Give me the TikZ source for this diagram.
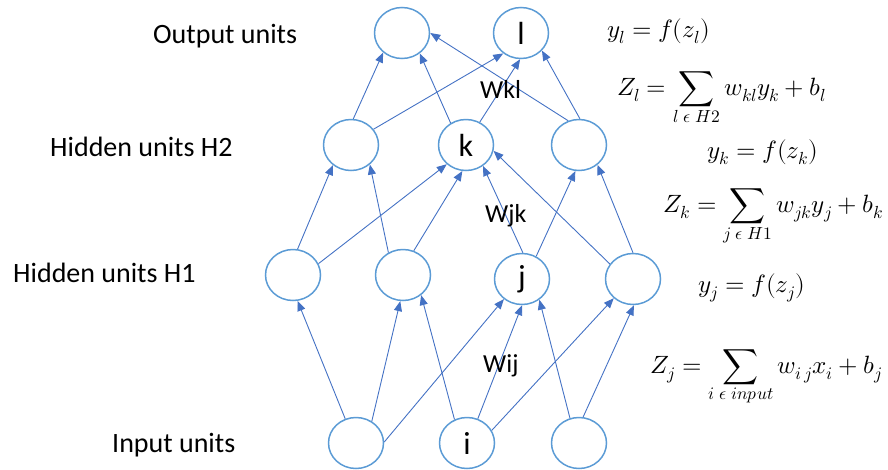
\documentclass[tikz,border=0pt]{standalone}
\usepackage{fontspec}
\usepackage{unicode-math}
\setmainfont{Carlito}
\setmathfont{Latin Modern Math}
\usetikzlibrary{arrows.meta,shapes.geometric}
\definecolor{edgeblue}{RGB}{68,114,196}
\definecolor{nodeblue}{RGB}{91,155,213}
\begin{document}
\begin{tikzpicture}[x=1pt,y=-1pt,
  unit/.style={ellipse,draw=nodeblue,line width=1.5pt,minimum width=55pt,minimum height=51pt,inner sep=0pt,font=\fontsize{32}{32}\selectfont},
  conn/.style={draw=edgeblue,line width=0.9pt,-{Triangle[length=10pt,width=8pt]}},
  lbl/.style={anchor=base west,inner sep=0pt,font=\fontsize{28}{28}\selectfont},
  wlbl/.style={anchor=base west,inner sep=0pt,font=\fontsize{26}{26}\selectfont},
  eq/.style={anchor=base west,inner sep=0pt,font=\fontsize{25}{30}\selectfont}]
\useasboundingbox (0,0) rectangle (888,469);
% nodes
\node[unit] (o1) at (402,33) {};
\node[unit] (l) at (521,33) {l};
\node[unit] (h2a) at (351,145) {};
\node[unit] (k) at (466,145) {k};
\node[unit] (h2c) at (579,145) {};
\node[unit] (h1a) at (293,275) {};
\node[unit] (h1b) at (403,275) {};
\node[unit] (j) at (522,279) {j};
\node[unit] (h1d) at (633,279) {};
\node[unit] (in1) at (356,443) {};
\node[unit] (i) at (467,443) {i};
\node[unit] (in3) at (579,443) {};
% layer labels
\node[lbl] (lo) at (153,43) {Output units};
\node[lbl] (lh2) at (50,156) {Hidden units H2};
\node[lbl] (lh1) at (13,282) {Hidden units H1};
\node[lbl] (li) at (112,452) {Input units};
% connectors input -> H1
\draw[conn] (in1.114) -- (h1a.-80);
\draw[conn] (in1.54) -- (h1b.-96);
\draw[conn] (in1.2) -- (j.-132);
\draw[conn] (i.118) -- (h1b.-48);
\draw[conn] (i.66) -- (j.-90);
\draw[conn] (i.27) -- (h1d.-135);
\draw[conn] (in3.110) -- (j.-50);
\draw[conn] (in3.81) -- (h1d.-88);
% H1 -> H2
\draw[conn] (h1a.80) -- (h2a.-132);
\draw[conn] (h1a.24) -- (k.-135);
\draw[conn] (h1b.123) -- (h2a.-46);
\draw[conn] (h1b.66) -- (k.-98);
\draw[conn] (j.88) -- (k.-51);
\draw[conn] (j.58) -- (h2c.-98);
\draw[conn] (h1d.147) -- (k.-12);
\draw[conn] (h1d.90) -- (h2c.-47);
% H2 -> output
\draw[conn] (h2a.85) -- (o1.-134);
\draw[conn] (h2a.35) -- (l.-131);
\draw[conn] (k.125) -- (o1.-49);
\draw[conn] (k.59) -- (l.-92);
\draw[conn] (h2c.114) -- (o1.0);
\draw[conn] (h2c.88) -- (l.-40);
% weight labels
\node[wlbl] (wkl) at (480,98) {Wkl};
\node[wlbl] (wjk) at (485,222) {Wjk};
\node[wlbl] (wij) at (483,372) {Wij};
% equations
\node[eq] (eyl) at (607,37) {$y_l = f(z_l)$};
\node[eq] (ezl) at (617,95) {$Z_l = \displaystyle\sum_{l\;\epsilon\;H2} w_{kl}y_k + b_l$};
\node[eq] (eyk) at (707,158) {$y_k = f(z_k)$};
\node[eq] (ezk) at (663,212) {$Z_k = \displaystyle\sum_{j\;\epsilon\;H1} w_{jk}y_j + b_k$};
\node[eq] (eyj) at (698,292) {$y_j = f(z_j)$};
\node[eq] (ezj) at (650,373) {$Z_j = \displaystyle\sum_{i\;\epsilon\;input} w_{i\,j}x_i + b_j$};
\end{tikzpicture}
\end{document}
